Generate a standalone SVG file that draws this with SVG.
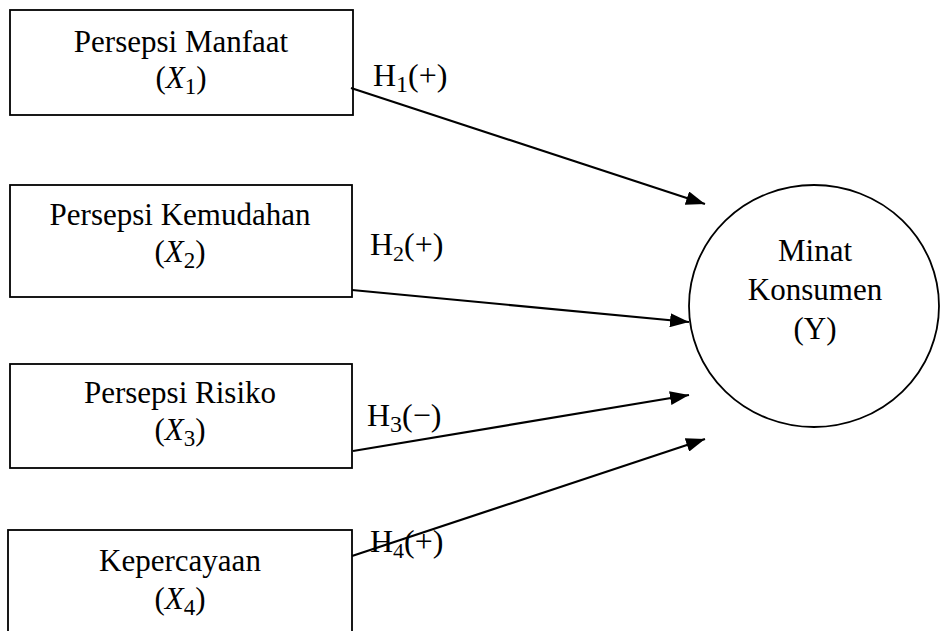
<svg xmlns="http://www.w3.org/2000/svg" width="942" height="631" viewBox="0 0 942 631">
<defs>
<style>
.box{fill:#fff;stroke:#000;stroke-width:1.8}
.t{font-family:"Liberation Serif","Times New Roman",serif;font-size:31px;fill:#000;text-anchor:middle}
.lbl{font-family:"Liberation Serif","Times New Roman",serif;font-size:32px;fill:#000}
.it{font-style:italic}
.edge{stroke:#000;stroke-width:2.2;fill:none;marker-end:url(#ah)}
</style>
<marker id="ah" markerUnits="userSpaceOnUse" markerWidth="20" markerHeight="14" refX="19" refY="7" orient="auto">
<path d="M0,0 L19,7 L0,14 Z" fill="#000"/>
</marker>
</defs>
<rect width="942" height="631" fill="#fff"/>
<g id="x1">
<rect class="box" x="10" y="10" width="343" height="105"/>
<text class="t" x="181" y="52">Persepsi Manfaat</text>
<text class="t" x="181" y="88">(<tspan class="it">X</tspan><tspan font-size="23" dy="6">1</tspan><tspan dy="-6">)</tspan></text>
</g>
<g id="x2">
<rect class="box" x="10" y="185" width="342" height="112"/>
<text class="t" x="180" y="225">Persepsi Kemudahan</text>
<text class="t" x="180" y="262">(<tspan class="it">X</tspan><tspan font-size="23" dy="6">2</tspan><tspan dy="-6">)</tspan></text>
</g>
<g id="x3">
<rect class="box" x="10" y="364" width="342" height="104"/>
<text class="t" x="180" y="403">Persepsi Risiko</text>
<text class="t" x="180" y="440">(<tspan class="it">X</tspan><tspan font-size="23" dy="6">3</tspan><tspan dy="-6">)</tspan></text>
</g>
<g id="x4">
<rect class="box" x="8" y="530" width="344" height="130"/>
<text class="t" x="180" y="571">Kepercayaan</text>
<text class="t" x="180" y="609">(<tspan class="it">X</tspan><tspan font-size="23" dy="6">4</tspan><tspan dy="-6">)</tspan></text>
</g>
<g id="y">
<ellipse class="box" cx="814" cy="306" rx="125" ry="121"/>
<text class="t" x="815" y="261">Minat</text>
<text class="t" x="815" y="300">Konsumen</text>
<text class="t" x="815" y="339">(Y)</text>
</g>
<g id="connectors">
<line class="edge" x1="351" y1="88" x2="705" y2="204"/>
<line class="edge" x1="352" y1="290" x2="689" y2="322"/>
<line class="edge" x1="353" y1="451" x2="689" y2="395"/>
<line class="edge" x1="352" y1="556" x2="705" y2="439"/>
</g>
<g id="labels">
<text class="lbl" x="373" y="86">H<tspan font-size="24" dy="6">1</tspan><tspan dy="-6">(+)</tspan></text>
<text class="lbl" x="370" y="255" font-size="30">H<tspan font-size="22" dy="6">2</tspan><tspan dy="-6">(+)</tspan></text>
<text class="lbl" x="367" y="426">H<tspan font-size="24" dy="6">3</tspan><tspan dy="-6">(−)</tspan></text>
<text class="lbl" x="370" y="552" font-size="30">H<tspan font-size="22" dy="6">4</tspan><tspan dy="-6">(+)</tspan></text>
</g>
</svg>
